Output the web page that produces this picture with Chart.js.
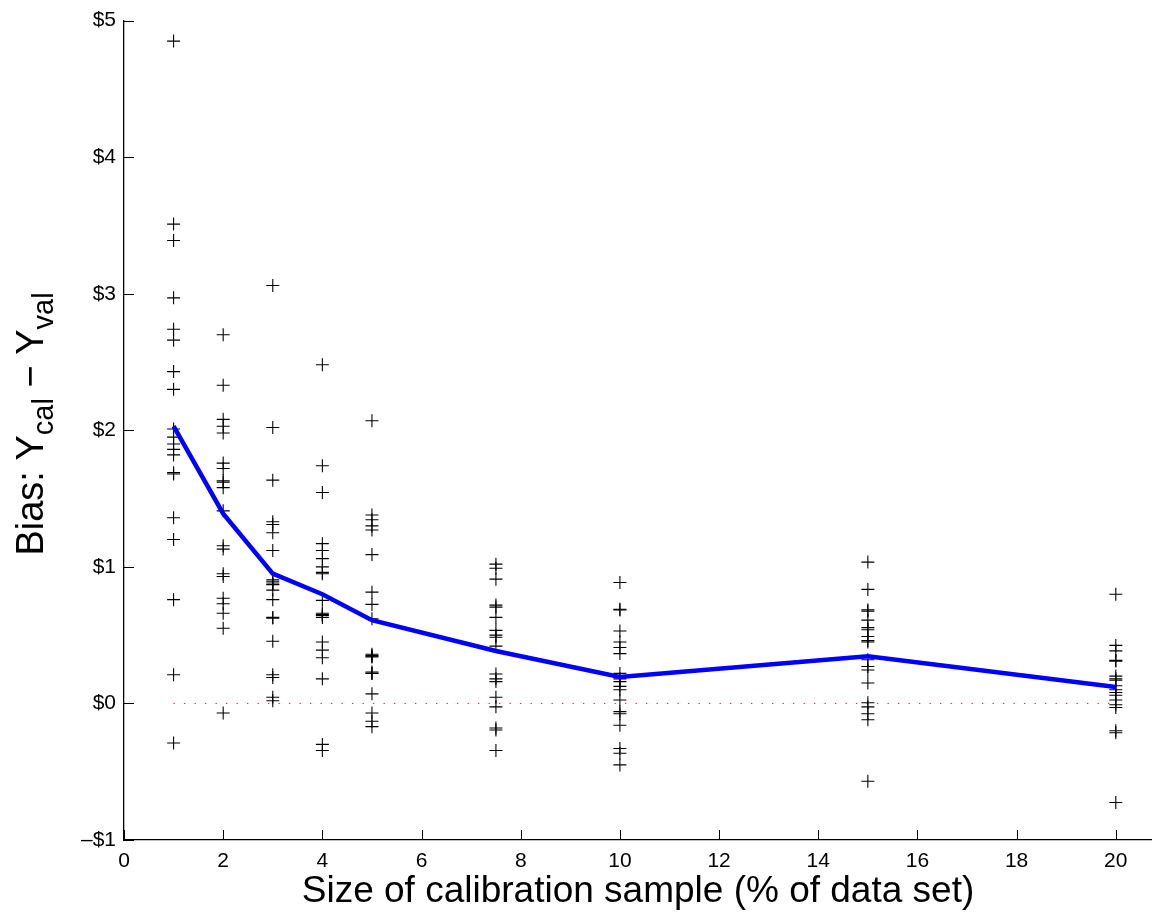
<!DOCTYPE html>
<html>
<head>
<meta charset="utf-8">
<script src="https://cdn.jsdelivr.net/npm/chart.js@4.4.1/dist/chart.umd.min.js"></script>
<style>
  html, body { margin: 0; padding: 0; background: #fff; overflow: hidden; }
  #wrap { width: 1152px; height: 919px; }
</style>
</head>
<body>
<div id="wrap"><canvas id="sesgo"></canvas></div>
<script>
// tamaños de muestra de calibracion (% del set de datos)
var tamanos = [1, 2, 3, 4, 5, 7.5, 10, 15, 20];

// sesgo de cada corrida, una lista por tamaño
var sesgo01 = [4.85, 3.51, 3.39, 2.97, 2.74, 2.66, 2.43, 2.30, 2.01, 1.95, 1.90, 1.86, 1.82, 1.69, 1.68, 1.36, 1.20, 0.76, 0.21, -0.29];
var sesgo02 = [2.70, 2.33, 2.08, 2.03, 1.98, 1.76, 1.72, 1.63, 1.62, 1.58, 1.41, 1.155, 1.13, 0.95, 0.93, 0.77, 0.73, 0.66, 0.55, -0.07];
var sesgo03 = [3.06, 2.02, 1.635, 1.33, 1.31, 1.25, 1.12, 0.905, 0.89, 0.875, 0.87, 0.83, 0.76, 0.63, 0.625, 0.455, 0.21, 0.19, 0.045, 0.02];
var sesgo04 = [2.48, 1.74, 1.545, 1.17, 1.12, 1.06, 1.00, 0.96, 0.95, 0.755, 0.66, 0.65, 0.645, 0.63, 0.45, 0.39, 0.335, 0.18, -0.30, -0.345];
var sesgo05 = [2.07, 1.38, 1.345, 1.30, 1.27, 1.09, 0.815, 0.725, 0.62, 0.36, 0.35, 0.345, 0.34, 0.23, 0.22, 0.22, 0.07, -0.07, -0.13, -0.17];
var sesgo075 = [1.02, 0.99, 0.91, 0.72, 0.705, 0.63, 0.535, 0.50, 0.485, 0.42, 0.215, 0.18, 0.16, 0.045, -0.025, -0.18, -0.195, -0.345];
var sesgo10 = [0.885, 0.69, 0.685, 0.53, 0.45, 0.41, 0.365, 0.22, 0.18, 0.16, 0.125, 0.10, 0.025, -0.06, -0.075, -0.16, -0.33, -0.365, -0.45];
var sesgo15 = [1.035, 0.835, 0.685, 0.675, 0.61, 0.555, 0.54, 0.49, 0.46, 0.45, 0.32, 0.27, 0.245, 0.15, 0.005, -0.025, -0.075, -0.12, -0.57];
var sesgo20 = [0.80, 0.425, 0.385, 0.315, 0.31, 0.20, 0.18, 0.17, 0.13, 0.10, 0.08, 0.06, 0.025, -0.01, -0.03, -0.20, -0.215, -0.725];

// sesgo promedio (linea azul)
var sesgoMedio = [2.03, 1.39, 0.95, 0.80, 0.61, 0.384, 0.194, 0.345, 0.121];

// etiquetas de los ejes
var ticksX = [0, 2, 4, 6, 8, 10, 12, 14, 16, 18, 20];
var ticksY = [-1, 0, 1, 2, 3, 4, 5];

var fuente = '"Liberation Sans", Arial, Helvetica, sans-serif';

function armarPuntos() {
    var columnas = [sesgo01, sesgo02, sesgo03, sesgo04, sesgo05, sesgo075, sesgo10, sesgo15, sesgo20];
    var puntos = [];
    for (var i = 0; i < tamanos.length; i++) {
        for (var j = 0; j < columnas[i].length; j++) {
            puntos.push({ x: tamanos[i], y: columnas[i][j] });
        }
    }
    return puntos;
}

function armarMedia() {
    var linea = [];
    for (var i = 0; i < tamanos.length; i++) {
        linea.push({ x: tamanos[i], y: sesgoMedio[i] });
    }
    return linea;
}

// marcas de eje hacia adentro (estilo matlab)
const marcasAdentro = {
    id: 'marcasAdentro',
    afterDatasetsDraw(chart) {
        const ctx = chart.ctx;
        const sx = chart.scales.x, sy = chart.scales.y;
        const area = chart.chartArea;
        ctx.save();
        ctx.strokeStyle = '#000';
        ctx.lineWidth = 1;
        ticksX.forEach(function (v) {
            var px = Math.round(sx.getPixelForValue(v)) + 0.5;
            ctx.beginPath();
            ctx.moveTo(px, area.bottom);
            ctx.lineTo(px, area.bottom - 10);
            ctx.stroke();
        });
        ticksY.forEach(function (v) {
            var py = Math.round(sy.getPixelForValue(v)) + 0.5;
            ctx.beginPath();
            ctx.moveTo(area.left, py);
            ctx.lineTo(area.left + 10, py);
            ctx.stroke();
        });
        ctx.restore();
    }
};

// titulo del eje y con subindices
const tituloY = {
    id: 'tituloY',
    afterDraw(chart) {
        const ctx = chart.ctx;
        const grande = '38px ' + fuente;
        const chica = '29px ' + fuente;
        const partes = [['Bias: Y', grande, 0], ['cal', chica, 10], [' \u2212 Y', grande, 0], ['val', chica, 10]];
        var total = 0;
        partes.forEach(function (p) { ctx.font = p[1]; total += ctx.measureText(p[0]).width; });
        ctx.save();
        ctx.translate(43, 424);
        ctx.rotate(-Math.PI / 2);
        ctx.fillStyle = '#000';
        ctx.textBaseline = 'alphabetic';
        var x = -total / 2;
        partes.forEach(function (p) {
            ctx.font = p[1];
            ctx.fillText(p[0], x, p[2]);
            x += ctx.measureText(p[0]).width;
        });
        ctx.restore();
    }
};

const grafico = new Chart('sesgo', {
    type: 'scatter',
    data: {
        datasets: [{
            type: 'line',
            label: 'cero',
            data: [{ x: 1, y: 0 }, { x: 20, y: 0 }],
            borderColor: '#ff0000',
            borderWidth: 1,
            borderDash: [1.2, 9.3],
            pointRadius: 0,
            order: 3
        }, {
            label: 'corridas',
            data: armarPuntos(),
            pointStyle: 'cross',
            pointRadius: 6.5,
            borderColor: '#000',
            backgroundColor: '#000',
            borderWidth: 1.1,
            order: 2
        }, {
            type: 'line',
            label: 'media',
            data: armarMedia(),
            borderColor: '#0000ff',
            borderWidth: 4.5,
            pointRadius: 0,
            tension: 0,
            order: 1
        }]
    },
    options: {
        responsive: true,
        maintainAspectRatio: false,
        animation: false,
        layout: { autoPadding: false, padding: { top: 18, right: 0, left: 0, bottom: 0 } },
        plugins: {
            legend: { display: false },
            tooltip: { enabled: false }
        },
        scales: {
            x: {
                type: 'linear',
                min: 0,
                max: 20.73,
                grid: { display: false, drawTicks: false },
                border: { display: true, color: '#000', width: 1.3 },
                afterBuildTicks: function (eje) {
                    eje.ticks = ticksX.map(function (v) { return { value: v }; });
                },
                afterFit: function (eje) {
                    eje.height = 79;
                    eje.paddingRight = 0;
                    eje.paddingLeft = 0;
                },
                ticks: {
                    color: '#000',
                    padding: 9,
                    maxRotation: 0,
                    font: { family: fuente, size: 21 }
                },
                title: {
                    display: true,
                    text: 'Size of calibration sample (% of data set)',
                    color: '#000',
                    font: { family: fuente, size: 37 },
                    padding: { top: 0, bottom: 5 }
                }
            },
            y: {
                type: 'linear',
                min: -1,
                max: 5,
                grid: { display: false, drawTicks: false },
                border: { display: true, color: '#000', width: 1.3 },
                afterBuildTicks: function (eje) {
                    eje.ticks = ticksY.map(function (v) { return { value: v }; });
                },
                afterFit: function (eje) { eje.width = 124; },
                ticks: {
                    color: '#000',
                    padding: 8,
                    font: { family: fuente, size: 21 },
                    callback: function (val) {
                        return val < 0 ? '\u2013$' + Math.abs(val) : '$' + val;
                    }
                }
            }
        }
    },
    plugins: [marcasAdentro, tituloY]
});
</script>
</body>
</html>
